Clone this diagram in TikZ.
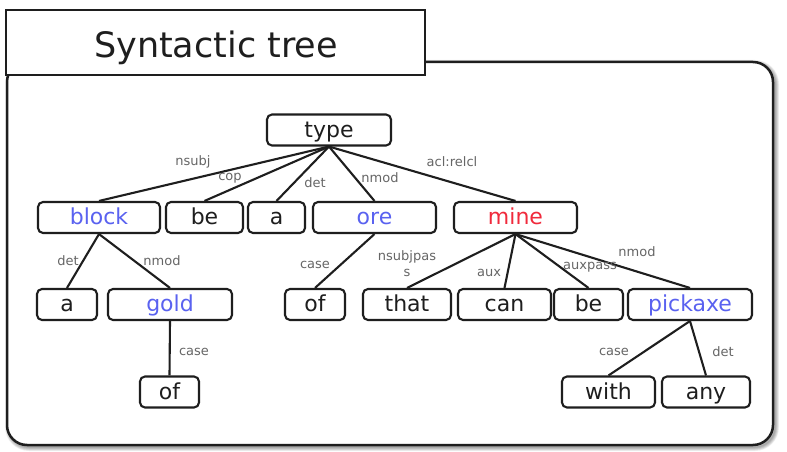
\documentclass[tikz,border=0pt]{standalone}
\usepackage{fontspec}
\setmainfont{DejaVu Sans}
\definecolor{ink}{HTML}{1E1E1E}
\definecolor{lexblue}{HTML}{5A62F0}
\definecolor{lexred}{HTML}{F02A3C}
\definecolor{relgray}{HTML}{666666}
\begin{document}
\begin{tikzpicture}[x=1pt,y=-1pt,
  tok/.style={draw=ink, line width=2.1pt, rounded corners=5pt, fill=white,
    minimum height=31pt, inner sep=0pt, text height=14.5pt, text depth=0pt,
    font=\fontsize{22}{22}\selectfont, text=ink},
  blue tok/.style={tok, text=lexblue},
  red tok/.style={tok, text=lexred},
  dep/.style={draw=ink, line width=2.1pt},
  rel/.style={font=\fontsize{13}{16}\selectfont, text=relgray, inner sep=0pt, align=center},
]
\useasboundingbox (0,0) rectangle (787,452);

% soft shadow behind the main panel
\foreach \w in {1,...,8}
  \draw[black, opacity=0.05, line width=\w pt, rounded corners=20pt] (9,64) rectangle (775,447);

% main panel
\draw[draw=ink, line width=2.5pt, fill=white, rounded corners=20pt] (7,62) rectangle (773,445);

% title tab
\node[draw=ink, line width=1.7pt, fill=white, minimum width=419pt, minimum height=65pt, inner sep=0pt] (titlebox) at (215.5,42.5) {};
\node[font=\fontsize{35}{35}\selectfont, text=ink, anchor=base, inner sep=0pt] (title) at (216,58) {Syntactic tree};

% tokens
\node[tok, minimum width=124pt] (type) at (329,130) {type};

\node[blue tok, minimum width=122pt] (block) at (99,217.5) {block};
\node[tok, minimum width=77pt] (be1) at (204.5,217.5) {be};
\node[tok, minimum width=57pt] (a1) at (276.5,217.5) {a};
\node[blue tok, minimum width=123pt] (ore) at (374.5,217.5) {ore};
\node[red tok, minimum width=123pt] (mine) at (515.5,217.5) {mine};

\node[tok, minimum width=60pt] (a2) at (67,304.5) {a};
\node[blue tok, minimum width=124pt] (gold) at (170,304.5) {gold};
\node[tok, minimum width=60pt] (of1) at (315,304.5) {of};
\node[tok, minimum width=88pt] (that) at (407,304.5) {that};
\node[tok, minimum width=93pt] (can) at (504.5,304.5) {can};
\node[tok, minimum width=69pt] (be2) at (588.5,304.5) {be};
\node[blue tok, minimum width=124pt] (pickaxe) at (690,304.5) {pickaxe};

\node[tok, minimum width=59pt] (of2) at (169.5,392) {of};
\node[tok, minimum width=93pt] (with) at (608.5,392) {with};
\node[tok, minimum width=88pt] (any) at (706,392) {any};

% dependency arcs
\draw[dep] (type.south) -- (block.north);
\draw[dep] (type.south) -- (be1.north);
\draw[dep] (type.south) -- (a1.north);
\draw[dep] (type.south) -- (ore.north);
\draw[dep] (type.south) -- (mine.north);
\draw[dep] (block.south) -- (a2.north);
\draw[dep] (block.south) -- (gold.north);
\draw[dep] (ore.south) -- (of1.north);
\draw[dep] (mine.south) -- (that.north);
\draw[dep] (mine.south) -- (can.north);
\draw[dep] (mine.south) -- (be2.north);
\draw[dep] (mine.south) -- (pickaxe.north);
\draw[dep] (gold.south) -- (of2.north);
\draw[dep] (pickaxe.south) -- (with.north);
\draw[dep] (pickaxe.south) -- (any.north);

% relation labels
\node[rel] (r-nsubj) at (193,162) {nsubj};
\node[rel] (r-cop) at (230,178) {cop};
\node[rel] (r-det1) at (315,183) {det};
\node[rel] (r-nmod1) at (380,178) {nmod};
\node[rel] (r-acl) at (452,162) {acl:relcl};
\node[rel] (r-det2) at (68,261) {det};
\node[rel] (r-nmod2) at (162,261) {nmod};
\node[rel] (r-case1) at (315,265) {case};
\node[rel] (r-nsubjpass) at (407,264) {nsubjpas\\s};
\node[rel] (r-aux) at (489,273) {aux};
\node[rel] (r-auxpass) at (590,267) {auxpass};
\node[rel] (r-nmod3) at (637,252) {nmod};
\node[rel] (r-case2) at (194,352) {case};
\node[rel] (r-case3) at (614,352) {case};
\node[rel] (r-det3) at (723,352) {det};
\end{tikzpicture}
\end{document}
